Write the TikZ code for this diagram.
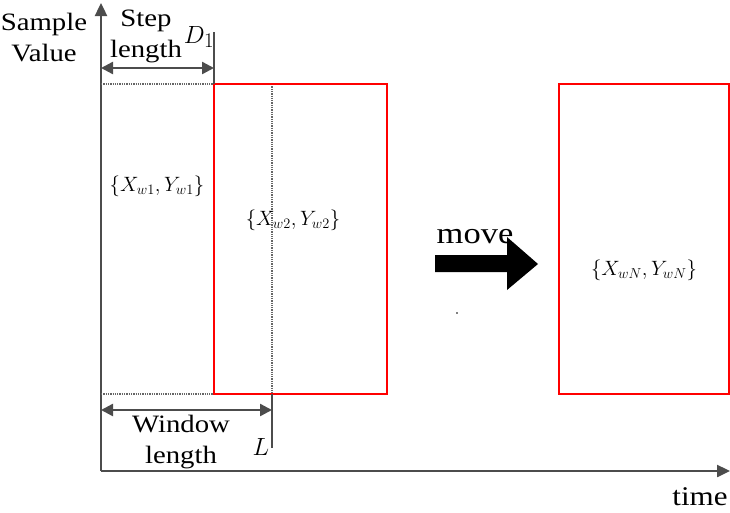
\documentclass[tikz,border=0pt]{standalone}
\usepackage{fontspec}
\setmainfont{Liberation Serif}[FakeStretch=1.15]
\usetikzlibrary{arrows.meta}

\tikzset{
  axis/.style={draw=black!70, line width=2.4pt, -{Triangle[length=13pt,width=12pt]}},
  dimline/.style={draw=black!70, line width=2.4pt,
    {Triangle[length=12pt,width=12pt]}-{Triangle[length=12pt,width=12pt]}},
  tickline/.style={draw=black!70, line width=2.4pt},
  winbox/.style={draw=red, line width=2pt},
  guide/.style={draw=black!60, densely dotted, line width=1.3pt},
  lbl/.style={font=\fontsize{25}{31}\selectfont, align=center, inner sep=0pt},
  setlbl/.style={font=\fontsize{21}{26}\selectfont, inner sep=0pt},
}

\begin{document}
\begin{tikzpicture}[x=1pt,y=-1pt]
  \useasboundingbox (0,0) rectangle (730,512);
  % axes
  \coordinate (O) at (101,471);
  \coordinate (ytop) at (101,3);
  \coordinate (xend) at (730,471);
  \draw[axis] (O) -- (ytop);
  \draw[axis] (O) -- (xend);

  % windows
  \coordinate (w1tl) at (101,84);
  \coordinate (w1bl) at (101,394);
  \coordinate (w1tr) at (272,84);
  \coordinate (w1br) at (272,394);
  \coordinate (w2tl) at (214,84);
  \coordinate (w2br) at (387,394);
  \coordinate (wNtl) at (559,84);
  \coordinate (wNbr) at (729,394);
  \draw[guide] (w1tl) -- (w2tl);
  \draw[guide] (w1bl) -- (w2tl |- w1bl);
  \draw[guide] (w1tr) -- (w1br);
  \draw[winbox] (w2tl) rectangle (w2br);
  \draw[winbox] (wNtl) rectangle (wNbr);

  % step length
  \coordinate (stop) at (214,32);
  \draw[tickline] (w2tl) -- (stop);
  \draw[dimline] (101,68) -- (214,68);

  % window length
  \coordinate (wbot) at (272,448);
  \draw[tickline] (w1br) -- (wbot);
  \draw[dimline] (101,410) -- (272,410);

  % labels
  \node[lbl] (sample) at (44,38) {Sample\\Value};
  \node[lbl] (step) at (146,36) {Step\\length};
  \node[lbl, font=\fontsize{28}{30}\selectfont] (d1) at (199,37) {$D_{1}$};
  \node[lbl] (window) at (181,442) {Window\\length};
  \node[lbl, font=\fontsize{28}{30}\selectfont] (l) at (261,447) {$L$};
  \node[lbl, font=\fontsize{27}{30}\selectfont] (time) at (700,497) {time};
  \node[setlbl] (set1) at (157,186) {$\{X_{w1},Y_{w1}\}$};
  \node[setlbl] (set2) at (293,220) {$\{X_{w2},Y_{w2}\}$};
  \node[setlbl] (setN) at (644,270) {$\{X_{wN},Y_{wN}\}$};

  % move arrow
  \node[lbl, font=\fontsize{30}{32}\selectfont] (move) at (475,237) {move};
  \fill[black] (435,255) -- (507,255) -- (507,237) -- (538,264)
    -- (507,290) -- (507,272) -- (435,272) -- cycle;
  \fill[black] (457,313) circle (0.8);
\end{tikzpicture}
\end{document}
